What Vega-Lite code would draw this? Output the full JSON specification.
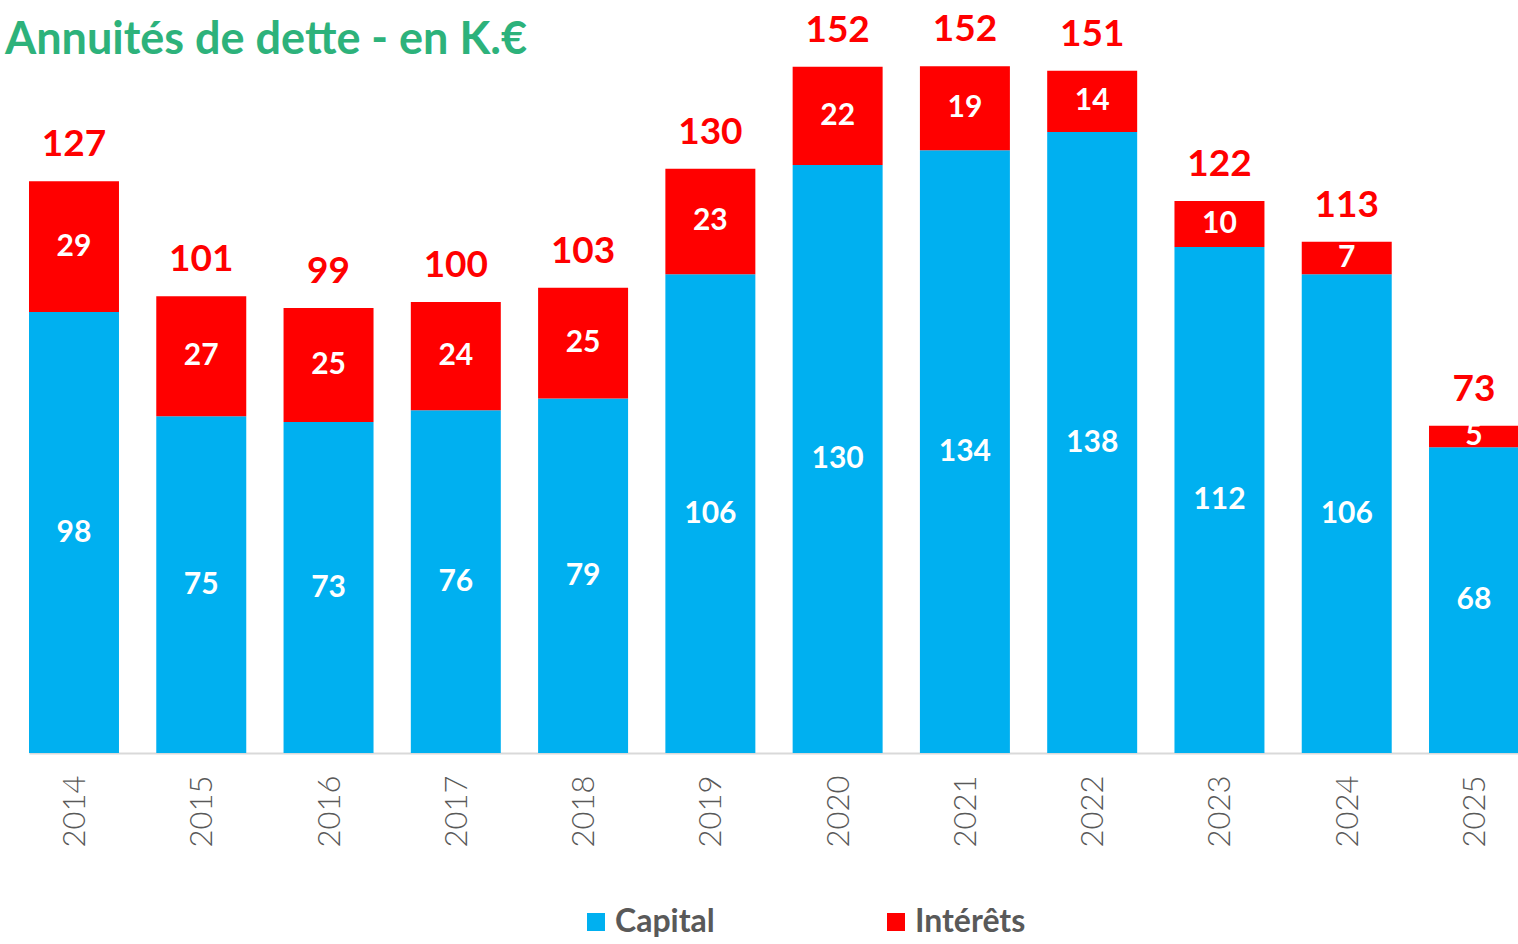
{
  "$schema": "https://vega.github.io/schema/vega-lite/v6.json",
  "width": 1508,
  "height": 753,
  "autosize": {"type": "none"},
  "padding": {"left": 10, "top": 0, "right": 0, "bottom": 191},
  "background": "white",
  "config": {"view": {"stroke": null}},
  "title": {
    "text": "Annuités de dette  - en K.€",
    "anchor": "start",
    "frame": "group",
    "orient": "top",
    "offset": -63,
    "dx": -5,
    "font": "Lato",
    "fontSize": 45,
    "fontWeight": "bold",
    "color": "#2DB27B"
  },
  "data": {
    "values": [
      {"year": "2014", "type": "Capital", "value": 97.8},
      {"year": "2014", "type": "Intérêts", "value": 29.0},
      {"year": "2015", "type": "Capital", "value": 74.7},
      {"year": "2015", "type": "Intérêts", "value": 26.6},
      {"year": "2016", "type": "Capital", "value": 73.4},
      {"year": "2016", "type": "Intérêts", "value": 25.3},
      {"year": "2017", "type": "Capital", "value": 76.0},
      {"year": "2017", "type": "Intérêts", "value": 24.0},
      {"year": "2018", "type": "Capital", "value": 78.6},
      {"year": "2018", "type": "Intérêts", "value": 24.6},
      {"year": "2019", "type": "Capital", "value": 106.2},
      {"year": "2019", "type": "Intérêts", "value": 23.4},
      {"year": "2020", "type": "Capital", "value": 130.4},
      {"year": "2020", "type": "Intérêts", "value": 21.8},
      {"year": "2021", "type": "Capital", "value": 133.7},
      {"year": "2021", "type": "Intérêts", "value": 18.6},
      {"year": "2022", "type": "Capital", "value": 137.7},
      {"year": "2022", "type": "Intérêts", "value": 13.6},
      {"year": "2023", "type": "Capital", "value": 112.2},
      {"year": "2023", "type": "Intérêts", "value": 10.2},
      {"year": "2024", "type": "Capital", "value": 106.2},
      {"year": "2024", "type": "Intérêts", "value": 7.2},
      {"year": "2025", "type": "Capital", "value": 67.8},
      {"year": "2025", "type": "Intérêts", "value": 4.8}
    ]
  },
  "encoding": {
    "x": {
      "field": "year",
      "type": "ordinal",
      "scale": {"range": [19, 1509], "paddingInner": 0.293, "paddingOuter": 0},
      "axis": {
        "title": null,
        "labelAngle": -90,
        "labelAlign": "right",
        "labelBaseline": "middle",
        "labelFont": "Lato",
        "labelFontWeight": 300,
        "labelFontSize": 31,
        "labelColor": "#595959",
        "labelPadding": 22,
        "labelOffset": 2,
        "ticks": false,
        "domainColor": "#D9D9D9",
        "domainWidth": 2,
        "grid": false
      }
    }
  },
  "layer": [
    {
      "mark": {"type": "bar", "strokeWidth": 0},
      "encoding": {
        "y": {"field": "value", "type": "quantitative", "aggregate": "sum", "stack": "zero", "scale": {"domain": [0, 167], "nice": false}, "axis": null},
        "color": {
          "field": "type",
          "type": "nominal",
          "scale": {"domain": ["Capital", "Intérêts"], "range": ["#00B0F0", "#FF0000"]},
          "legend": {
            "title": null,
            "orient": "none",
            "direction": "horizontal",
            "legendX": 570,
            "legendY": 906,
            "symbolType": "square",
            "symbolSize": 324,
            "symbolStrokeWidth": 0,
            "labelFont": "Lato",
            "labelFontSize": 32,
            "labelFontWeight": "bold",
            "labelColor": "#595959",
            "labelOffset": 3,
            "columnPadding": 165
          }
        },
        "order": {"field": "type"}
      }
    },
    {
      "mark": {"type": "text", "color": "white", "font": "Lato", "fontWeight": "bold", "fontSize": 30, "baseline": "middle", "align": "center"},
      "encoding": {
        "y": {"field": "value", "type": "quantitative", "aggregate": "sum", "stack": "zero", "bandPosition": 0.5},
        "detail": {"field": "type"},
        "order": {"field": "type"},
        "text": {"field": "value", "aggregate": "sum", "format": ".0f"}
      }
    },
    {
      "mark": {"type": "text", "color": "#FF0000", "font": "Lato", "fontWeight": "bold", "fontSize": 37, "baseline": "alphabetic", "align": "center", "dy": -25},
      "encoding": {
        "y": {"field": "value", "type": "quantitative", "aggregate": "sum"},
        "text": {"field": "value", "aggregate": "sum", "type": "quantitative", "format": ".0f"}
      }
    }
  ]
}
